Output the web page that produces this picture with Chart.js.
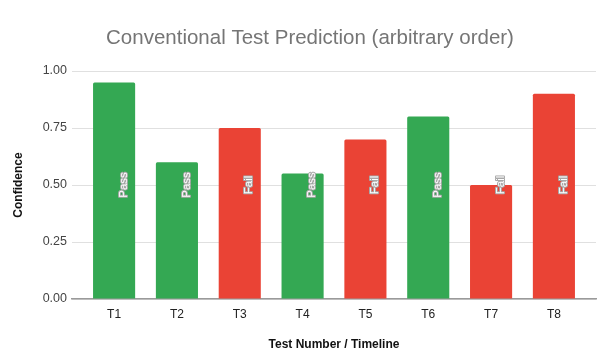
<!DOCTYPE html>
<html>
<head>
<meta charset="utf-8">
<script src="https://cdn.jsdelivr.net/npm/chart.js@4/dist/chart.umd.min.js"></script>
<style>
  html, body { margin: 0; padding: 0; background: #fff; }
  #wrap { width: 600px; height: 363px; }
</style>
</head>
<body>
<div id="wrap"><canvas id="chart" width="600" height="363"></canvas></div>
<script>
// --- DATA ---
const tests = ['T1', 'T2', 'T3', 'T4', 'T5', 'T6', 'T7', 'T8'];
const confidence = [0.95, 0.60, 0.75, 0.55, 0.70, 0.80, 0.50, 0.90];
const outcome = ['Pass', 'Pass', 'Fail', 'Pass', 'Fail', 'Pass', 'Fail', 'Fail'];
const yTicks = [0, 0.25, 0.5, 0.75, 1];
const chartTitle = 'Conventional Test Prediction (arbitrary order)';

const GREEN = '#34a853';
const RED = '#ea4335';
const FONT = '"Liberation Sans", Arial, sans-serif';

// --- TITLE (drawn slightly right of centre, like the original) ---
const titlePlugin = {
  id: 'titleText',
  afterDraw(chart) {
    const ctx = chart.ctx;
    ctx.save();
    ctx.font = '20.5px ' + FONT;
    ctx.fillStyle = '#757575';
    ctx.textAlign = 'center';
    ctx.textBaseline = 'middle';
    ctx.fillText(chartTitle, 310, 38);
    ctx.restore();
  }
};

// --- ROTATED PASS/FAIL LABELS ---
const outcomeLabels = {
  id: 'outcomeLabels',
  afterDatasetsDraw(chart) {
    const ctx = chart.ctx;
    const meta = chart.getDatasetMeta(0);
    const y = chart.scales.y.getPixelForValue(0.5);
    ctx.save();
    ctx.font = '11.5px ' + FONT;
    ctx.textAlign = 'center';
    ctx.textBaseline = 'middle';
    ctx.lineJoin = 'round';
    meta.data.forEach((bar, i) => {
      ctx.save();
      ctx.translate(bar.x + 9.5, y);
      ctx.rotate(-Math.PI / 2);
      ctx.lineWidth = 2;
      ctx.strokeStyle = '#a8a8a8';
      ctx.strokeText(outcome[i], 0, 0);
      ctx.fillStyle = '#ffffff';
      ctx.fillText(outcome[i], 0, 0);
      ctx.restore();
    });
    ctx.restore();
  }
};

// --- CHART ---
new Chart(document.getElementById('chart'), {
  type: 'bar',
  data: {
    datasets: [{
      label: 'Confidence',
      data: confidence.map((v, i) => ({ x: i + 1, y: v })),
      backgroundColor: outcome.map(o => o === 'Pass' ? GREEN : RED),
      borderWidth: 0,
      borderRadius: 1.5,
      categoryPercentage: 1,
      barPercentage: 0.67
    }]
  },
  options: {
    responsive: false,
    animation: false,
    layout: { padding: { left: 0, right: 4, top: 71, bottom: 0 } },
    plugins: {
      legend: { display: false },
      tooltip: { enabled: false },
      title: { display: false }
    },
    scales: {
      x: {
        type: 'linear',
        offset: false,
        min: 0.33,
        max: 8.67,
        grid: { display: false, drawTicks: false, offset: false },
        border: { display: true, color: '#9a9a9a', width: 1.5 },
        afterBuildTicks: s => { s.ticks = tests.map((_, i) => ({ value: i + 1 })); },
        afterFit: s => { s.height = 64; },
        ticks: {
          padding: 8,
          color: '#222',
          font: { family: FONT, size: 12 },
          callback: v => tests[v - 1] || ''
        },
        title: {
          display: true,
          text: 'Test Number / Timeline',
          color: '#111',
          font: { family: FONT, size: 12, weight: 'bold' },
          padding: { top: 0, bottom: 11 }
        }
      },
      y: {
        min: 0,
        max: 1,
        afterBuildTicks: s => { s.ticks = yTicks.map(v => ({ value: v })); },
        afterFit: s => { s.width = 72; },
        grid: { color: '#e0e0e0', drawTicks: false },
        border: { display: false },
        ticks: {
          padding: 5,
          color: '#444',
          font: { family: FONT, size: 12.5 },
          callback: v => v.toFixed(2)
        },
        title: {
          display: true,
          text: 'Confidence',
          color: '#111',
          font: { family: FONT, size: 12, weight: 'bold' },
          padding: { top: 11.5, bottom: 0 }
        }
      }
    }
  },
  plugins: [outcomeLabels, titlePlugin]
});
</script>
</body>
</html>
